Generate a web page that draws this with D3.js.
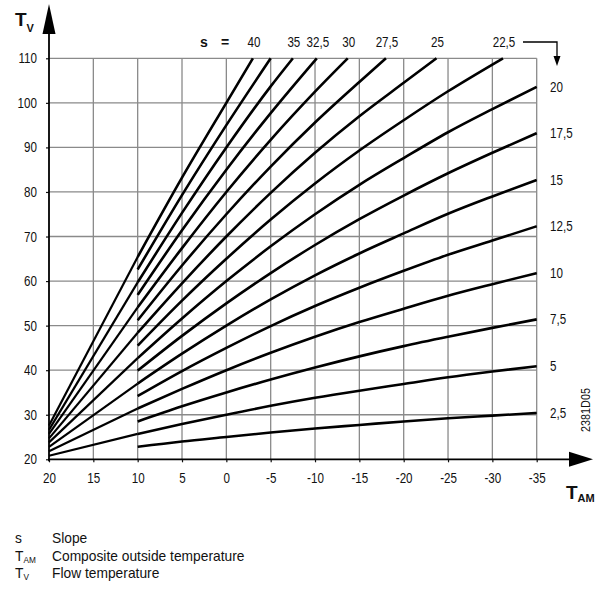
<!DOCTYPE html>
<html>
<head>
<meta charset="utf-8">
<script src="https://cdn.jsdelivr.net/npm/d3@7"></script>
<style>
  body { margin: 0; background: #fff; }
  svg text { font-family: "Liberation Sans", Arial, sans-serif; fill: #111; }
</style>
</head>
<body>
<div id="chart"></div>
<script>
//chart data
var tamTicks = [20, 15, 10, 5, 0, -5, -10, -15, -20, -25, -30, -35];
var tvTicks = [20, 30, 40, 50, 60, 70, 80, 90, 100, 110];

//outside temperatures where curve values were read
var tamPoints = [10, 5, 0, -5, -10, -15, -20, -25, -30, -35];

var slopes = [2.5, 5, 7.5, 10, 12.5, 15, 17.5, 20, 22.5, 25, 27.5, 30, 32.5, 35, 37.5, 40];

//flow temperature for each slope at tamPoints
var tv2_5  = [22.8, 24.0, 25.0, 26.0, 26.9, 27.7, 28.5, 29.2, 29.8, 30.4];
var tv5    = [25.7, 27.9, 30.0, 32.0, 33.8, 35.4, 36.9, 38.4, 39.7, 40.9];
var tv7_5  = [28.5, 31.9, 35.0, 37.9, 40.6, 43.1, 45.4, 47.5, 49.5, 51.4];
var tv10   = [31.4, 35.8, 40.0, 43.9, 47.5, 50.8, 53.8, 56.7, 59.3, 61.8];
var tv12_5 = [34.2, 39.8, 45.0, 49.9, 54.4, 58.5, 62.3, 65.9, 69.1, 72.3];
var tv15   = [37.0, 43.7, 50.0, 55.9, 61.3, 66.2, 70.7, 75.1, 79.0, 82.7];
var tv17_5 = [39.9, 47.7, 55.0, 61.8, 68.1, 73.9, 79.2, 84.2, 88.8, 93.2];
var tv20   = [42.7, 51.6, 60.0, 67.8, 75.0, 81.6, 87.6, 93.4, 98.6, 103.6];
var tv22_5 = [45.5, 55.6, 65.0, 73.8, 81.9, 89.3, 96.1, 102.6, 108.6];
var tv25   = [48.4, 59.5, 70.0, 79.8, 88.8, 97.0, 104.5];
var tv27_5 = [51.2, 63.5, 75.0, 85.7, 95.6, 104.7];
var tv30   = [54.1, 67.4, 80.0, 91.7, 102.5];
var tv32_5 = [56.9, 71.4, 85.0, 97.7];
var tv35   = [59.7, 75.3, 90.0, 103.7];
var tv37_5 = [62.6, 79.3, 95.0];
var tv40   = [65.4, 83.2, 100.0];

var tvValues = [tv2_5, tv5, tv7_5, tv10, tv12_5, tv15, tv17_5, tv20,
                tv22_5, tv25, tv27_5, tv30, tv32_5, tv35, tv37_5, tv40];

//outside temperature where the steep curves reach 110
var tamAtTop = [null, null, null, null, null, null, null, null,
                -31.2, -23.7, -18.0, -13.7, -10.2, -7.5, -5.0, -3.0];

//value at TAM = 20 for the curves drawn from the left edge
var tvAt20 = [null, 20.8, null, 21.8, null, 22.8, null, 23.8,
              null, 24.7, null, 25.7, null, 26.6, null, 27.6];

//labels above and right of the chart
var topLabelSlopes = [40, 35, 32.5, 30, 27.5, 25, 22.5];
var rightLabelSlopes = [20, 17.5, 15, 12.5, 10, 7.5, 5, 2.5];

var legendSymbols = ["s", "T", "T"];
var legendSubs = ["", "AM", "V"];
var legendTexts = ["Slope", "Composite outside temperature", "Flow temperature"];

//svg size
var svgWidth = 598;
var svgHeight = 590;
var narrow = 0.83;

var svg = d3.select("#chart")
  .append("svg")
  .attr("width", svgWidth)
  .attr("height", svgHeight);

//scales
var xScale = d3.scaleLinear().domain([20, -35]).range([49, 536.7]);
var yScale = d3.scaleLinear().domain([20, 110]).range([459.3, 58.3]);

var fmt = d => String(d).replace(".", ",");

//squeeze text horizontally to look like a narrow font
function squeeze(sel, k) {
  sel.each(function() {
    var t = d3.select(this);
    var x = +t.attr("x") || 0;
    var y = +t.attr("y") || 0;
    t.attr("x", null).attr("y", null)
      .attr("transform", `translate(${x},${y}) scale(${k},1)`);
  });
}

//grid
var grid = svg.append("g");
grid.selectAll(".vgrid")
  .data(tamTicks.slice(1))
  .enter()
  .append("line")
  .attr("x1", d => xScale(d))
  .attr("x2", d => xScale(d))
  .attr("y1", yScale(20))
  .attr("y2", yScale(110))
  .attr("stroke", "#8a8a8a")
  .attr("stroke-width", 1.3);

grid.selectAll(".hgrid")
  .data(tvTicks.slice(1))
  .enter()
  .append("line")
  .attr("x1", xScale(20))
  .attr("x2", xScale(-35))
  .attr("y1", d => yScale(d))
  .attr("y2", d => yScale(d))
  .attr("stroke", "#8a8a8a")
  .attr("stroke-width", 1.3);

//axes with tick labels
var xAxis = d3.axisBottom(xScale)
  .tickValues(tamTicks)
  .tickSize(3)
  .tickPadding(11)
  .tickFormat(fmt);

var yAxis = d3.axisLeft(yScale)
  .tickValues(tvTicks)
  .tickSize(3)
  .tickPadding(9)
  .tickFormat(fmt);

var xAxisG = svg.append("g")
  .attr("transform", `translate(0, ${yScale(20)})`)
  .call(xAxis);

var yAxisG = svg.append("g")
  .attr("transform", `translate(${xScale(20)}, 0)`)
  .call(yAxis);

[xAxisG, yAxisG].forEach(g => {
  g.select(".domain").remove();
  g.selectAll(".tick line").attr("stroke", "#111").attr("stroke-width", 1.2);
  g.selectAll(".tick text")
    .style("font-size", "14px")
    .style("font-family", "'Liberation Sans', Arial, sans-serif")
    .attr("fill", "#111");
  squeeze(g.selectAll(".tick text"), narrow);
});

//axis lines with arrows
svg.append("line")
  .attr("x1", xScale(20)).attr("x2", xScale(20))
  .attr("y1", yScale(20) + 2).attr("y2", 30)
  .attr("stroke", "#000").attr("stroke-width", 1.8);
svg.append("polygon")
  .attr("points", `${xScale(20)},4 ${xScale(20) - 6.5},34 ${xScale(20) + 6.5},34`)
  .attr("fill", "#000");

svg.append("line")
  .attr("x1", xScale(20) - 1).attr("x2", 572)
  .attr("y1", yScale(20)).attr("y2", yScale(20))
  .attr("stroke", "#000").attr("stroke-width", 1.8);
svg.append("polygon")
  .attr("points", `593,${yScale(20)} 569,${yScale(20) - 7.5} 569,${yScale(20) + 7.5}`)
  .attr("fill", "#000");

//curves
var lineGen = d3.line()
  .x(d => xScale(d[0]))
  .y(d => yScale(d[1]))
  .curve(d3.curveMonotoneX);

var curvesG = svg.append("g");

slopes.forEach((s, i) => {
  var pts = tvValues[i].map((v, j) => [tamPoints[j], v]);
  if (tamAtTop[i] !== null) pts.push([tamAtTop[i], 110]);

  curvesG.append("path")
    .datum(pts)
    .attr("d", lineGen)
    .attr("fill", "none")
    .attr("stroke", "#000")
    .attr("stroke-width", 2.6);

  //left part from TAM 20 to 10
  if (tvAt20[i] !== null) {
    curvesG.append("line")
      .attr("x1", xScale(20))
      .attr("y1", yScale(tvAt20[i]))
      .attr("x2", xScale(10))
      .attr("y2", yScale(tvValues[i][0]))
      .attr("stroke", "#000")
      .attr("stroke-width", 2.2);
  }
});

//slope labels on top
svg.append("text")
  .attr("x", 204).attr("y", 47)
  .attr("text-anchor", "middle")
  .style("font-size", "14px").style("font-weight", "bold")
  .text("s");
svg.append("text")
  .attr("x", 225).attr("y", 47)
  .attr("text-anchor", "middle")
  .style("font-size", "14px").style("font-weight", "bold")
  .text("=");

var topLabels = svg.selectAll(".toplabel")
  .data(topLabelSlopes)
  .enter()
  .append("text")
  .attr("x", d => xScale(tamAtTop[slopes.indexOf(d)]) + 1)
  .attr("y", 47)
  .attr("text-anchor", "middle")
  .style("font-size", "14px")
  .text(fmt);
squeeze(topLabels, narrow);

//arrow pointing down to right labels
svg.append("polyline")
  .attr("points", "523,42 557,42 557,58")
  .attr("fill", "none")
  .attr("stroke", "#000")
  .attr("stroke-width", 1.3);
svg.append("polygon")
  .attr("points", "553.5,56 560.5,56 557,66")
  .attr("fill", "#000");

//slope labels on the right
var rightLabels = svg.selectAll(".rightlabel")
  .data(rightLabelSlopes)
  .enter()
  .append("text")
  .attr("x", 550)
  .attr("y", d => yScale(tvValues[slopes.indexOf(d)][tamPoints.length - 1]))
  .attr("dy", "0.35em")
  .style("font-size", "14px")
  .text(fmt);
squeeze(rightLabels, narrow);

//axis titles
var tvTitle = svg.append("text")
  .attr("x", 15).attr("y", 26)
  .style("font-weight", "bold")
  .style("font-size", "19px")
  .text("T");
tvTitle.append("tspan")
  .attr("dy", 6)
  .style("font-size", "11px")
  .text("V");

var tamTitle = svg.append("text")
  .attr("x", 566).attr("y", 499)
  .style("font-weight", "bold")
  .style("font-size", "19px")
  .text("T");
tamTitle.append("tspan")
  .attr("dy", 3)
  .style("font-size", "11px")
  .text("AM");

//drawing number
svg.append("text")
  .attr("transform", `translate(590, 410) rotate(-90) scale(${narrow},1)`)
  .attr("text-anchor", "middle")
  .style("font-size", "13px")
  .text("2381D05");

//legend
var legend = svg.append("g");
legendSymbols.forEach((sym, i) => {
  var y = 543 + i * 17.5;
  var t = legend.append("text")
    .attr("x", 15).attr("y", y)
    .style("font-size", "15px")
    .text(sym);
  if (legendSubs[i]) {
    t.append("tspan")
      .attr("dy", 2)
      .style("font-size", "9px")
      .text(legendSubs[i]);
  }
  squeeze(t, 0.92);
  var lt = legend.append("text")
    .attr("x", 52).attr("y", y)
    .style("font-size", "15px")
    .text(legendTexts[i]);
  squeeze(lt, 0.92);
});
</script>
</body>
</html>
